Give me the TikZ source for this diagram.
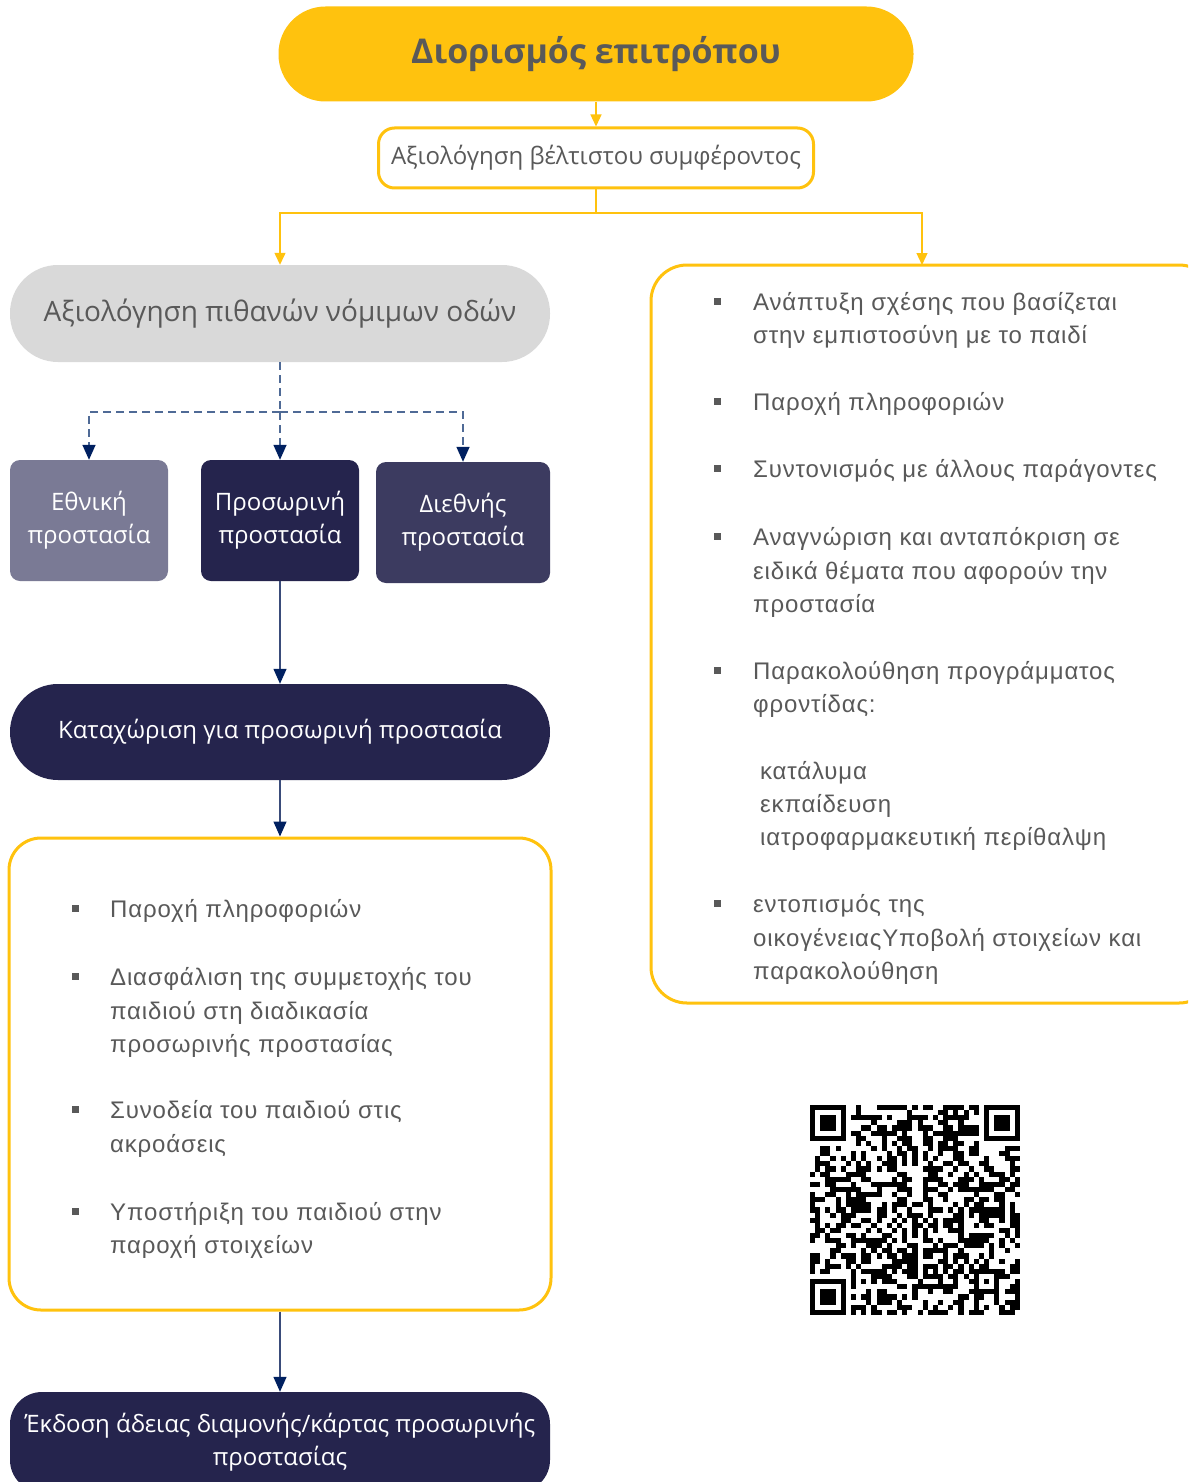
\documentclass[tikz,border=0pt]{standalone}
\usepackage{fontspec}
\usetikzlibrary{arrows.meta,calc}
\newfontfamily\osans{Open Sans}
\newfontfamily\lsans[LetterSpace=3.5]{Liberation Sans}
\definecolor{ylw}{HTML}{FFC20E}
\definecolor{gtxt}{HTML}{595959}
\definecolor{gpill}{HTML}{D9D9D9}
\definecolor{navyfill}{HTML}{25244D}
\definecolor{natfill}{HTML}{7A7A95}
\definecolor{intlfill}{HTML}{3C3B60}
\definecolor{tipnavy}{HTML}{002060}
\definecolor{dline}{HTML}{4F6A96}
\definecolor{sline}{HTML}{3A4C7A}
\tikzset{
  ylink/.style={draw=ylw, line width=1.3pt},
  yarrow/.style={ylink, -{Triangle[width=11pt,length=12pt,color=ylw]}},
  dlink/.style={draw=dline, line width=1.5pt, dash pattern=on 8pt off 5pt},
  darrow/.style={dlink, -{Triangle[width=13pt,length=15pt,color=tipnavy]}},
  sarrow/.style={draw=sline, line width=1.3pt, -{Triangle[width=13pt,length=15pt,color=tipnavy]}},
  whitetxt/.style={text=white, font=\osans\fontsize{24}{33}\selectfont, align=center, inner sep=0pt},
  smallbox/.style={whitetxt, minimum width=158pt, minimum height=121pt, rounded corners=10pt},
  pillbox/.style={whitetxt, minimum width=540pt, minimum height=96pt, rounded corners=48pt, fill=navyfill},
  ybox/.style={draw=ylw, line width=3pt, fill=white, inner sep=0pt},
  btxt/.style={anchor=base west, inner sep=0pt, text=gtxt, font=\lsans\fontsize{24}{30}\selectfont},
  bmark/.style={fill=gtxt, minimum size=7pt, inner sep=0pt},
}
\begin{document}
\begin{tikzpicture}[x=1pt,y=-1pt]
\useasboundingbox (0,0) rectangle (1188,1482);
\clip (0,0) rectangle (1188,1482);
\fill[white] (0,0) rectangle (1188,1482);

% top
\node[fill=ylw, minimum width=635pt, minimum height=95pt, rounded corners=47pt, inner sep=0pt,
      text=gtxt, font=\osans\bfseries\fontsize{34}{40}\selectfont] (title) at (596,54) {Διορισμός επιτρόπου};
\node[ybox, minimum width=435pt, minimum height=60pt, rounded corners=16pt,
      text=gtxt, font=\osans\fontsize{24}{30}\selectfont] (best) at (596,158) {Αξιολόγηση βέλτιστου συμφέροντος};
\draw[yarrow] (title.south) -- (best.north);

% legal routes
\node[fill=gpill, minimum width=540pt, minimum height=97pt, rounded corners=48pt, inner sep=0pt,
      text=gtxt, font=\osans\fontsize{28}{34}\selectfont] (legal) at (280,313.5) {Αξιολόγηση πιθανών νόμιμων οδών};

% right box
\node[ybox, minimum width=564pt, minimum height=738pt, rounded corners=36pt] (rbox) at (933,634) {};
\coordinate (rtop) at (922,265);

\coordinate (split) at (596,213);
\draw[ylink] (best.south) -- (split);
\draw[yarrow] (split) -| (legal.north);
\draw[yarrow] (split) -| (rtop);

% protection boxes
\node[smallbox, fill=natfill] (nat) at (89,520.5) {Εθνική\\προστασία};
\node[smallbox, fill=navyfill] (temp) at (280,520.5) {Προσωρινή\\προστασία};
\node[smallbox, fill=intlfill, minimum width=174pt] (intl) at (463,522.5) {Διεθνής\\προστασία};

\coordinate (dsplit) at (280,412);
\draw[dlink] (legal.south) -- (dsplit);
\draw[darrow] (dsplit) -| (nat.north);
\draw[darrow] (dsplit) -- (temp.north);
\draw[darrow] (dsplit) -| (intl.north);

% registration
\node[pillbox] (reg) at (280,732) {Καταχώριση για προσωρινή προστασία};
\draw[sarrow] (temp.south) -- (reg.north);

% left box
\node[ybox, minimum width=542pt, minimum height=472pt, rounded corners=32pt] (lbox) at (280,1074) {};
\draw[sarrow] (reg.south) -- (lbox.north);

% issue
\node[pillbox, minimum height=100pt, rounded corners=32pt] (issue) at (280,1442) {Έκδοση άδειας διαμονής/κάρτας προσωρινής\\προστασίας};
\draw[sarrow] (lbox.south) -- (issue.north);

% left bullets
\node[bmark] (lb1) at (75,908) {};
\node[btxt] (l1a) at (110,917) {Παροχή πληροφοριών};
\node[bmark] (lb2) at (75,976) {};
\node[btxt] (l2a) at (110,985) {Διασφάλιση της συμμετοχής του};
\node[btxt] (l2b) at (110,1019) {παιδιού στη διαδικασία};
\node[btxt] (l2c) at (110,1052) {προσωρινής προστασίας};
\node[bmark] (lb3) at (75,1109) {};
\node[btxt] (l3a) at (110,1118) {Συνοδεία του παιδιού στις};
\node[btxt] (l3b) at (110,1152) {ακροάσεις};
\node[bmark] (lb4) at (75,1211) {};
\node[btxt] (l4a) at (110,1220) {Υποστήριξη του παιδιού στην};
\node[btxt] (l4b) at (110,1253) {παροχή στοιχείων};

% right bullets
\node[bmark] (rb1) at (717,301) {};
\node[btxt] (r1a) at (753,310) {Ανάπτυξη σχέσης που βασίζεται};
\node[btxt] (r1b) at (753,343) {στην εμπιστοσύνη με το παιδί};
\node[bmark] (rb2) at (717,401) {};
\node[btxt] (r2a) at (753,410) {Παροχή πληροφοριών};
\node[bmark] (rb3) at (717,468) {};
\node[btxt] (r3a) at (753,477) {Συντονισμός με άλλους παράγοντες};
\node[bmark] (rb4) at (717,536) {};
\node[btxt] (r4a) at (753,545) {Αναγνώριση και ανταπόκριση σε};
\node[btxt] (r4b) at (753,579) {ειδικά θέματα που αφορούν την};
\node[btxt] (r4c) at (753,612) {προστασία};
\node[bmark] (rb5) at (717,670) {};
\node[btxt] (r5a) at (753,679) {Παρακολούθηση προγράμματος};
\node[btxt] (r5b) at (753,712) {φροντίδας:};
\node[btxt] (r6a) at (760,779) {κατάλυμα};
\node[btxt] (r6b) at (760,812) {εκπαίδευση};
\node[btxt] (r6c) at (760,845) {ιατροφαρμακευτική περίθαλψη};
\node[bmark] (rb7) at (717,903) {};
\node[btxt] (r7a) at (753,912) {εντοπισμός της};
\node[btxt] (r7b) at (753,946) {οικογένειαςΥποβολή στοιχείων και};
\node[btxt] (r7c) at (753,979) {παρακολούθηση};

% QR code (pattern)
\pgfmathsetseed{4242}
\foreach \i in {0,...,40}{
  \foreach \j in {0,...,40}{
    \pgfmathrandominteger{\rr}{0}{9}
    \pgfmathtruncatemacro{\skp}{(\i<8)*(\j<8)+(\i<8)*(\j>32)+(\i>32)*(\j<8)+(\i>31)*(\i<37)*(\j>31)*(\j<37)}
    \ifnum\skp=0 \ifnum\rr<5
      \fill[black] ({810+\i*5.12},{1105+\j*5.12}) rectangle ++(5.12,5.12);
    \fi\fi
  }
}
\foreach \ox/\oy in {0/0,34/0,0/34}{
  \fill[black] ({810+\ox*5.12},{1105+\oy*5.12}) rectangle ++(35.84,35.84);
  \fill[white] ({810+(\ox+1)*5.12},{1105+(\oy+1)*5.12}) rectangle ++(25.6,25.6);
  \fill[black] ({810+(\ox+2)*5.12},{1105+(\oy+2)*5.12}) rectangle ++(15.36,15.36);
}
\fill[black] ({810+32*5.12},{1105+32*5.12}) rectangle ++(25.6,25.6);
\fill[white] ({810+33*5.12},{1105+33*5.12}) rectangle ++(15.36,15.36);
\fill[black] ({810+34*5.12},{1105+34*5.12}) rectangle ++(5.12,5.12);
\end{tikzpicture}
\end{document}
